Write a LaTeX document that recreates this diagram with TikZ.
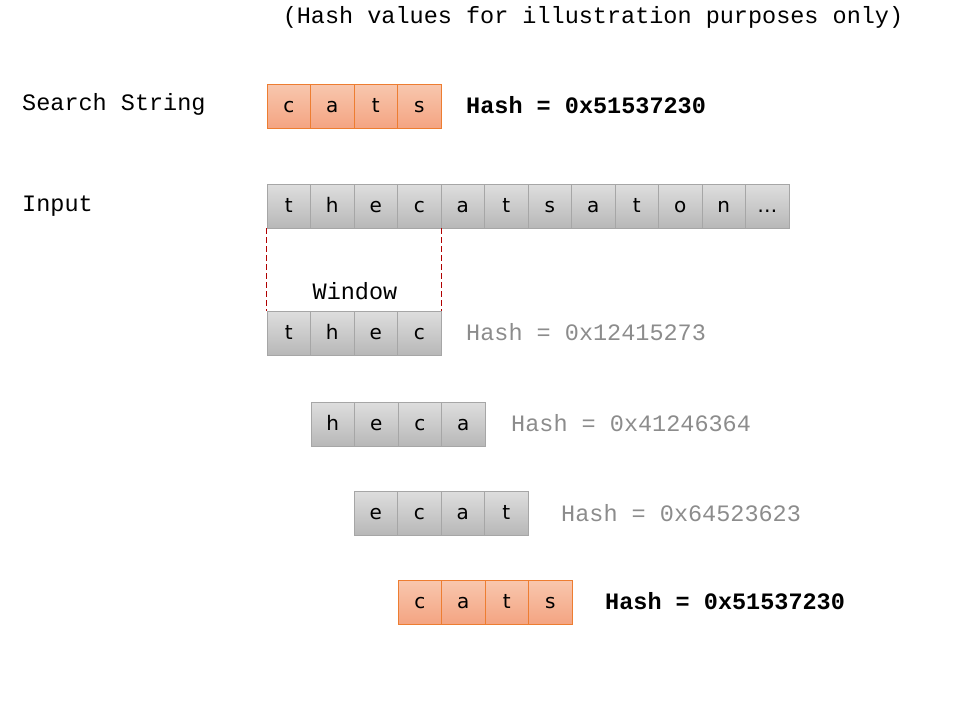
\documentclass[tikz,border=0pt]{standalone}
\usepackage{fontspec}
\setmainfont{DejaVu Sans}
\setmonofont{Liberation Mono}
\usetikzlibrary{positioning}
\definecolor{hitedge}{HTML}{ED7D31}
\definecolor{hittop}{HTML}{F8C7AE}
\definecolor{hitbottom}{HTML}{F4A482}
\definecolor{winred}{HTML}{B00000}

\begin{document}
\begin{tikzpicture}[x=1pt,y=-1pt]
            \tikzstyle{cell}=[draw=black!35,top color=black!13,bottom color=black!28,minimum width=43.5pt,minimum height=44pt,inner sep=0pt,text height=14pt,text depth=2pt,font=\fontsize{20}{22}\selectfont]
            \tikzstyle{hit}=[cell,draw=hitedge,top color=hittop,bottom color=hitbottom]
            \tikzstyle{label}=[anchor=west,inner sep=0pt,font=\ttfamily\fontsize{23.5}{26}\selectfont]
            \tikzstyle{hash}=[label,text=black!45]
            \tikzstyle{match}=[label,font=\ttfamily\bfseries\fontsize{23.5}{26}\selectfont]
            \tikzstyle{window}=[winred,line width=1pt,dash pattern=on 6pt off 3pt]
            \useasboundingbox (0,0) rectangle (955,705);
            \node[label,anchor=center] (note) at (593,17) {(Hash values for illustration purposes only)};
            % search string
            \node[label] (search) at (22,104) {Search String};
            \foreach \ch [count=\i] in {c,a,t,s}
                \node[hit] (s\i) at ({267+43.5*(\i-0.5)},106) {\ch};
            \node[match] (shash) at (466,105) {Hash = 0x51537230};
            % input
            \node[label] (input) at (22,206) {Input};
            \foreach \ch [count=\i] in {t,h,e,c,a,t,s,a,t,o,n,…}
                \node[cell] (in\i) at ({267+43.5*(\i-0.5)},206) {\ch};
            % windows
            \foreach \ch [count=\i] in {t,h,e,c}
                \node[cell] (a\i) at ({267+43.5*(\i-0.5)},333) {\ch};
            \node[hash] (ahash) at (466,332) {Hash = 0x12415273};
            \foreach \ch [count=\i] in {h,e,c,a}
                \node[cell] (b\i) at ({311+43.5*(\i-0.5)},424) {\ch};
            \node[hash] (bhash) at (511,423) {Hash = 0x41246364};
            \foreach \ch [count=\i] in {e,c,a,t}
                \node[cell] (c\i) at ({354+43.5*(\i-0.5)},513) {\ch};
            \node[hash] (chash) at (561,513) {Hash = 0x64523623};
            \foreach \ch [count=\i] in {c,a,t,s}
                \node[hit] (d\i) at ({398+43.5*(\i-0.5)},602) {\ch};
            \node[match] (dhash) at (605,601) {Hash = 0x51537230};
            \draw[window] (in1.south west) -- (a1.north west);
            \draw[window] (in4.south east) -- (a4.north east);
            \node[label,anchor=center] (win) at (355,291) {Window};
\end{tikzpicture}
\end{document}
